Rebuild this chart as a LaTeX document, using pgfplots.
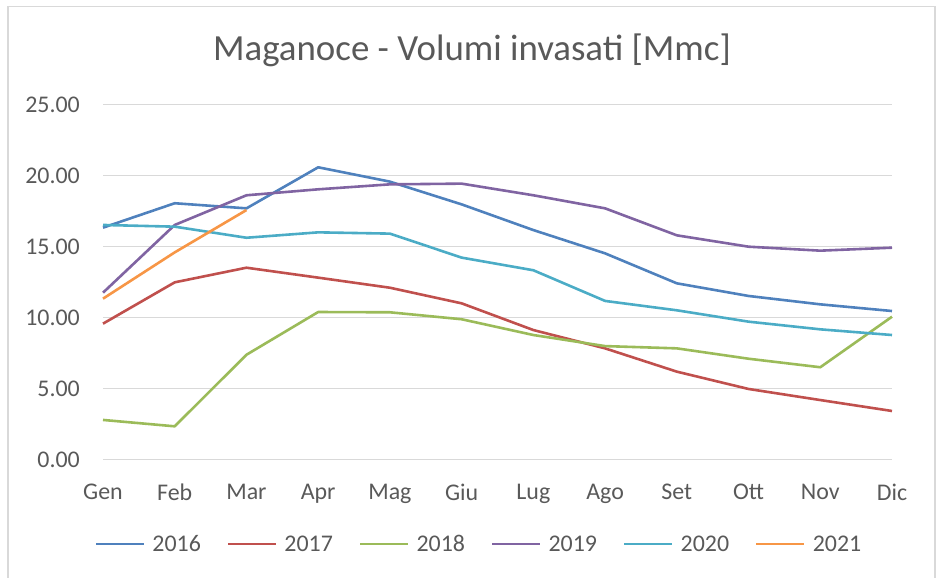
\documentclass[border=0pt]{standalone}
\usepackage{pgfplots}
\pgfplotsset{compat=1.18}
\usepackage{fontspec}
\setmainfont{Carlito}
\definecolor{cA}{HTML}{4F81BD}
\definecolor{cB}{HTML}{C0504D}
\definecolor{cC}{HTML}{9BBB59}
\definecolor{cD}{HTML}{8064A2}
\definecolor{cE}{HTML}{4BACC6}
\definecolor{cF}{HTML}{F79646}
\definecolor{txt}{HTML}{595959}
\definecolor{gridc}{HTML}{D9D9D9}
\begin{document}
\begin{tikzpicture}[x=1bp,y=1bp]
\path[use as bounding box] (0,0) rectangle (936,578);
\draw[gridc, line width=1.2bp] (8,0) -- (8,571.5) -- (935,571.5) -- (935,0);
\node[txt, font=\fontsize{37}{42}\selectfont] at (472,528) {Maganoce - Volumi invasati [Mmc]};
\begin{axis}[
  at={(103bp,118.3bp)}, anchor=south west,
  scale only axis, width=789bp, height=355bp,
  xmin=0, xmax=11, ymin=0, ymax=25,
  xtick={0,...,11},
  xticklabels={Gen,Feb,Mar,Apr,Mag,Giu,Lug,Ago,Set,Ott,Nov,Dic},
  ytick={0,5,...,25},
  axis line style={draw=none},
  major tick length=0pt,
  ymajorgrids,
  grid style={gridc, line width=1.3bp},
  yticklabel style={/pgf/number format/.cd, fixed, fixed zerofill, precision=2, assume math mode=true},
  every tick label/.append style={txt, font=\fontsize{24}{26}\selectfont, inner sep=0pt},
  yticklabel shift=23bp,
  xticklabel shift=24bp,
  clip=false,
  legend columns=6,
  legend style={at={(0.4753,-0.2375)}, anchor=center, draw=none, fill=none,
    font=\fontsize{24}{26}\selectfont, text=txt,
    nodes={inner sep=0pt},
    /tikz/every odd column/.append style={column sep=7bp},
    /tikz/every even column/.append style={column sep=26bp}},
  legend image code/.code={\draw[#1] (0bp,0bp) -- (48bp,0bp);},
  every axis plot/.append style={line width=2.6bp, line join=round},
]
\addplot[cA] coordinates {(0,16.34)(1,18.06)(2,17.70)(3,20.59)(4,19.58)(5,17.98)(6,16.17)(7,14.53)(8,12.42)(9,11.53)(10,10.94)(11,10.47)};
\addlegendentry{2016}
\addplot[cB] coordinates {(0,9.58)(1,12.49)(2,13.52)(3,12.82)(4,12.11)(5,11.01)(6,9.13)(7,7.84)(8,6.20)(9,4.98)(10,4.20)(11,3.43)};
\addlegendentry{2017}
\addplot[cC] coordinates {(0,2.80)(1,2.35)(2,7.39)(3,10.40)(4,10.38)(5,9.89)(6,8.78)(7,8.00)(8,7.84)(9,7.11)(10,6.51)(11,10.07)};
\addlegendentry{2018}
\addplot[cD] coordinates {(0,11.76)(1,16.53)(2,18.62)(3,19.04)(4,19.39)(5,19.44)(6,18.62)(7,17.70)(8,15.80)(9,15.00)(10,14.72)(11,14.93)};
\addlegendentry{2019}
\addplot[cE] coordinates {(0,16.53)(1,16.41)(2,15.63)(3,16.01)(4,15.92)(5,14.23)(6,13.34)(7,11.18)(8,10.52)(9,9.72)(10,9.18)(11,8.78)};
\addlegendentry{2020}
\addplot[cF] coordinates {(0,11.34)(1,14.60)(2,17.58)};
\addlegendentry{2021}
\end{axis}
\end{tikzpicture}
\end{document}
